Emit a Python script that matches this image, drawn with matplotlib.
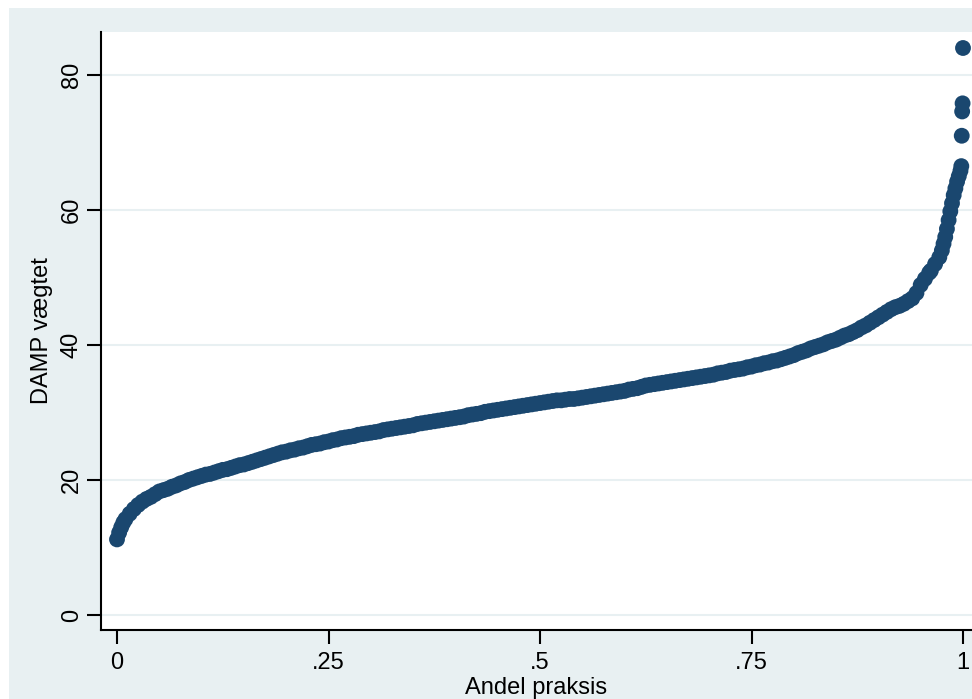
import matplotlib.pyplot as plt
from matplotlib.patches import Rectangle

# sorted practice values (share of practices vs weighted DAMP)
andel = [0.0, 0.0025, 0.005, 0.0075, 0.01, 0.015, 0.02, 0.025, 0.03, 0.035, 0.04, 0.045,
         0.05, 0.055, 0.06, 0.065, 0.07, 0.075, 0.08, 0.085, 0.09, 0.095,
         0.10, 0.105, 0.11, 0.115, 0.12, 0.125, 0.13, 0.135, 0.14, 0.145,
         0.15, 0.155, 0.16, 0.165, 0.17, 0.175, 0.18, 0.185, 0.19, 0.195,
         0.20, 0.205, 0.21, 0.215, 0.22, 0.225, 0.23, 0.235, 0.24, 0.245,
         0.25, 0.255, 0.26, 0.265, 0.27, 0.275, 0.28, 0.285, 0.29, 0.295,
         0.30, 0.305, 0.31, 0.315, 0.32, 0.325, 0.33, 0.335, 0.34, 0.345,
         0.35, 0.355, 0.36, 0.365, 0.37, 0.375, 0.38, 0.385, 0.39, 0.395,
         0.40, 0.405, 0.41, 0.415, 0.42, 0.425, 0.43, 0.435, 0.44, 0.445,
         0.45, 0.455, 0.46, 0.465, 0.47, 0.475, 0.48, 0.485, 0.49, 0.495,
         0.50, 0.505, 0.51, 0.515, 0.52, 0.525, 0.53, 0.535, 0.54, 0.545,
         0.55, 0.555, 0.56, 0.565, 0.57, 0.575, 0.58, 0.585, 0.59, 0.595,
         0.60, 0.605, 0.61, 0.615, 0.62, 0.625, 0.63, 0.635, 0.64, 0.645,
         0.65, 0.655, 0.66, 0.665, 0.67, 0.675, 0.68, 0.685, 0.69, 0.695,
         0.70, 0.705, 0.71, 0.715, 0.72, 0.725, 0.73, 0.735, 0.74, 0.745,
         0.75, 0.755, 0.76, 0.765, 0.77, 0.775, 0.78, 0.785, 0.79, 0.795,
         0.80, 0.805, 0.81, 0.815, 0.82, 0.825, 0.83, 0.835, 0.84, 0.845,
         0.85, 0.855, 0.86, 0.865, 0.87, 0.875, 0.88, 0.885, 0.89, 0.895,
         0.90, 0.905, 0.91, 0.915, 0.92, 0.925, 0.93, 0.935, 0.94,
         0.945, 0.95, 0.955, 0.96, 0.962, 0.967, 0.972, 0.975, 0.977, 0.979, 0.981, 0.983, 0.985,
         0.987, 0.989, 0.991, 0.993, 0.995, 0.997, 0.998, 0.9985, 0.999, 0.9995, 1.0]
damp = [11.2, 12.2, 13.0, 13.7, 14.2, 15.0, 15.7, 16.3, 16.8, 17.2, 17.5, 17.9,
        18.3, 18.5, 18.7, 19.0, 19.2, 19.5, 19.7, 20.0, 20.2, 20.4,
        20.6, 20.8, 20.9, 21.1, 21.3, 21.5, 21.6, 21.8, 22.0, 22.2,
        22.3, 22.5, 22.7, 22.9, 23.1, 23.3, 23.5, 23.7, 23.9, 24.1,
        24.2, 24.4, 24.5, 24.7, 24.8, 25.0, 25.2, 25.3, 25.4, 25.6,
        25.7, 25.9, 26.0, 26.2, 26.3, 26.4, 26.5, 26.7, 26.8, 26.9,
        27.0, 27.1, 27.2, 27.4, 27.5, 27.6, 27.7, 27.8, 27.9, 28.0,
        28.1, 28.3, 28.4, 28.5, 28.6, 28.7, 28.8, 28.9, 29.0, 29.1,
        29.2, 29.3, 29.4, 29.6, 29.7, 29.8, 29.9, 30.1, 30.2, 30.3,
        30.4, 30.5, 30.6, 30.7, 30.8, 30.9, 31.0, 31.1, 31.2, 31.3,
        31.4, 31.5, 31.6, 31.7, 31.8, 31.8, 31.9, 32.0, 32.0, 32.1,
        32.2, 32.3, 32.4, 32.5, 32.6, 32.7, 32.8, 32.9, 33.0, 33.1,
        33.2, 33.4, 33.5, 33.6, 33.8, 34.0, 34.1, 34.2, 34.3, 34.4,
        34.5, 34.6, 34.7, 34.8, 34.9, 35.0, 35.1, 35.2, 35.3, 35.4,
        35.5, 35.6, 35.8, 35.9, 36.0, 36.2, 36.3, 36.4, 36.5, 36.7,
        36.8, 37.0, 37.1, 37.3, 37.4, 37.6, 37.7, 37.9, 38.1, 38.3,
        38.5, 38.8, 39.0, 39.2, 39.5, 39.7, 39.9, 40.1, 40.4, 40.6,
        40.8, 41.1, 41.4, 41.6, 41.9, 42.2, 42.6, 42.9, 43.3, 43.7,
        44.1, 44.5, 44.9, 45.3, 45.6, 45.8, 46.1, 46.5, 46.9,
        47.7, 48.9, 49.8, 50.7, 51.0, 52.0, 53.0, 54.0, 55.0, 56.0, 57.2, 58.5, 59.8,
        61.0, 62.2, 63.2, 64.2, 65.0, 65.8, 66.5, 71.0, 74.6, 75.8, 84.0]

xticks = [0, 0.25, 0.5, 0.75, 1]
xlabels = ['0', '.25', '.5', '.75', '1']
yticks = [0, 20, 40, 60, 80]

plt.rcParams['font.family'] = ['Liberation Sans', 'DejaVu Sans']

fig = plt.figure(figsize=(9.72, 6.99), dpi=100, facecolor='white')
fig.patches.append(Rectangle((9 / 972, 0), 1, 1 - 8 / 699, transform=fig.transFigure,
                             facecolor='#e8f0f2', edgecolor='none', zorder=-10))
ax = fig.add_axes([101 / 972, 69 / 699, 871 / 972, 598 / 699])
ax.set_facecolor('white')

ax.scatter(andel, damp, s=130, color='#1a476f', edgecolors='none', zorder=3)

ax.set_xlim(-16 / 846, 855 / 846)
ax.set_ylim(-15 / 6.75, 583 / 6.75)
ax.set_xticks(xticks)
ax.set_xticklabels(xlabels)
ax.set_yticks(yticks)
ax.set_yticklabels([str(v) for v in yticks], rotation=90, va='center')
ax.grid(axis='y', color='#e8f0f2', linewidth=1.5, zorder=1)
ax.set_axisbelow(True)

for s in ['top', 'right']:
    ax.spines[s].set_visible(False)
for s in ['left', 'bottom']:
    ax.spines[s].set_linewidth(1.5)
    ax.spines[s].set_color('black')
ax.tick_params(length=10, width=1.5, labelsize=17)
ax.tick_params(axis='x', pad=6)
ax.tick_params(axis='y', pad=3)

ax.set_xlabel('Andel praksis', fontsize=17, labelpad=2)
ax.set_ylabel('DAMP vægtet', fontsize=17, labelpad=6)

fig.savefig('out.png', dpi=100, facecolor=fig.get_facecolor())
